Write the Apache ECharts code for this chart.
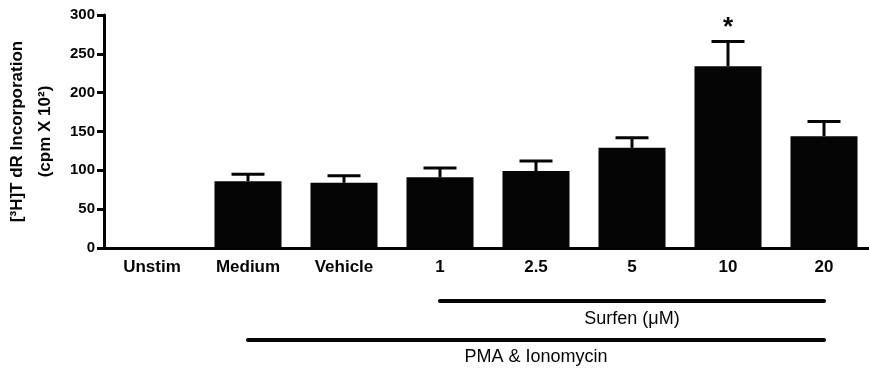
<!DOCTYPE html>
<html>
<head>
<meta charset="utf-8">
<script src="https://cdn.jsdelivr.net/npm/echarts@6/dist/echarts.min.js"></script>
<style>
  html, body { margin: 0; padding: 0; background: #fff; }
  #main { width: 869px; height: 370px; }
</style>
</head>
<body>
<div id="main"></div>
<script>
// data
const categories = ['Unstim', 'Medium', 'Vehicle', '1', '2.5', '5', '10', '20']
const means = [1, 86, 84, 91, 99, 129, 234, 144]
const errors = [0, 9, 9, 12, 13, 13, 32, 19]
const marks = ['', '', '', '', '', '', '*', '']
const yTicks = [0, 50, 100, 150, 200, 250, 300]

const ink = '#050505'
const myChart = echarts.init(document.getElementById('main'))

// error bar: stem up from the bar top + cap, plus optional significance mark
function renderError(params, api) {
  const i = api.value(0)
  const top = api.value(1) + api.value(2)
  const base = api.coord([i, api.value(1)])
  const tip = api.coord([i, top])
  const half = 16.5
  const children = []
  if (api.value(2) > 0) {
    children.push({
      type: 'line',
      shape: { x1: base[0], y1: base[1], x2: tip[0], y2: tip[1] },
      style: { stroke: ink, lineWidth: 3 },
    })
    children.push({
      type: 'line',
      shape: { x1: tip[0] - half, y1: tip[1], x2: tip[0] + half, y2: tip[1] },
      style: { stroke: ink, lineWidth: 3 },
    })
  }
  const mark = marks[i]
  if (mark) {
    children.push({
      type: 'text',
      style: {
        x: tip[0],
        y: tip[1] - 14,
        text: mark,
        fill: ink,
        font: 'bold 26px "Liberation Sans", Arial, sans-serif',
        align: 'center',
        verticalAlign: 'middle',
      },
    })
  }
  return { type: 'group', children }
}

const option = {
  animation: false,
  backgroundColor: '#fff',
  grid: { left: 104, top: 15, width: 768, bottom: 122, containLabel: false, outerBoundsMode: 'none' },
  xAxis: {
    type: 'category',
    data: categories,
    axisLine: { lineStyle: { color: ink, width: 3 } },
    axisTick: { alignWithLabel: true, length: 8, lineStyle: { color: ink, width: 3 } },
    axisLabel: {
      margin: 11,
      color: ink,
      fontSize: 17,
      fontWeight: 'bold',
      fontFamily: '"Liberation Sans", Arial, sans-serif',
      interval: 0,
    },
  },
  yAxis: {
    type: 'value',
    min: yTicks[0],
    max: yTicks[yTicks.length - 1],
    interval: 50,
    name: '[³H]T dR Incorporation\n(cpm X 10²)',
    nameLocation: 'middle',
    nameRotate: 90,
    nameGap: 45,
    nameTextStyle: {
      color: ink,
      fontSize: 17,
      fontWeight: 'bold',
      lineHeight: 28,
      fontFamily: '"Liberation Sans", Arial, sans-serif',
    },
    axisLine: { show: true, lineStyle: { color: ink, width: 3 } },
    axisTick: { show: true, length: 7, lineStyle: { color: ink, width: 3 } },
    splitLine: { show: false },
    axisLabel: {
      margin: 9,
      color: ink,
      fontSize: 15,
      fontWeight: 'bold',
      fontFamily: '"Liberation Sans", Arial, sans-serif',
    },
  },
  series: [
    {
      type: 'bar',
      data: means,
      barWidth: 67,
      itemStyle: { color: ink },
      z: 2,
    },
    {
      type: 'custom',
      data: categories.map((c, i) => [i, means[i], errors[i]]),
      renderItem: renderError,
      z: 3,
    },
  ],
}

myChart.setOption(option)

// treatment brackets under the axis, spanning tick centres
function bracket(from, to, y, label, labelY) {
  const a = myChart.convertToPixel({ xAxisIndex: 0 }, from)
  const b = myChart.convertToPixel({ xAxisIndex: 0 }, to)
  return [
    {
      type: 'line',
      shape: { x1: a, y1: y, x2: b, y2: y },
      style: { stroke: ink, lineWidth: 4, lineCap: 'round' },
    },
    {
      type: 'text',
      style: {
        x: (a + b) / 2,
        y: labelY,
        text: label,
        fill: ink,
        font: '18px "Liberation Sans", Arial, sans-serif',
        align: 'center',
        verticalAlign: 'middle',
      },
    },
  ]
}

myChart.setOption({
  graphic: [
    ...bracket('1', '20', 301, 'Surfen (μM)', 319),
    ...bracket('Medium', '20', 340, 'PMA & Ionomycin', 357),
  ],
})

window.addEventListener('resize', function () {
  myChart.resize()
})
</script>
</body>
</html>
